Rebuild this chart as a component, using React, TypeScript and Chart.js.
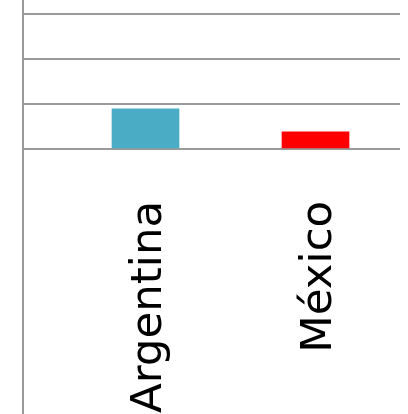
import React, { useEffect, useRef } from "react";
import { Chart, registerables } from "chart.js";

Chart.register(...registerables);

// Categories and their values
const categories: string[] = ["Argentina", "México"];
const values: number[] = [8.9, 3.8];
const barColors: string[] = ["#4bacc6", "#ff0000"];
// Horizontal gridline values on the value axis
const gridValues: number[] = [0, 10, 20, 30];

const GRID = "#9a9a9a";

export default function App() {
  const ref = useRef<HTMLCanvasElement | null>(null);

  useEffect(() => {
    if (!ref.current) return;
    const chart = new Chart(ref.current, {
      type: "bar",
      data: {
        datasets: [
          {
            data: values.map((v, i) => ({ x: i, y: v })),
            backgroundColor: barColors,
            borderWidth: 0,
            barThickness: 67,
          },
        ],
      },
      options: {
        animation: false,
        responsive: true,
        maintainAspectRatio: false,
        layout: { padding: { left: 0, right: 8, top: 0, bottom: 0 } },
        plugins: { legend: { display: false }, tooltip: { enabled: false } },
        scales: {
          x: {
            type: "linear",
            offset: false,
            min: -0.7206,
            max: 1.497,
            position: { y: 0 },
            grid: { display: false, drawTicks: false },
            border: { display: false },
            afterBuildTicks: (axis: any) => {
              axis.ticks = categories.map((_, i) => ({ value: i }));
            },
            afterFit: (axis: any) => {
              axis.paddingLeft = 0;
              axis.paddingRight = 0;
            },
            ticks: {
              autoSkip: false,
              minRotation: 90,
              maxRotation: 90,
              padding: 52,
              labelOffset: 4,
              color: "#000",
              font: { family: "DejaVu Sans", size: 43.5 },
              callback: (v: any) => categories[Math.round(Number(v))] ?? "",
            },
          },
          y: {
            type: "linear",
            min: -59.15,
            max: 33.2,
            afterBuildTicks: (axis: any) => {
              axis.ticks = gridValues.map((v) => ({ value: v }));
            },
            afterFit: (axis: any) => {
              axis.width = 23;
            },
            ticks: { display: false },
            grid: { color: GRID, lineWidth: 2, drawTicks: false },
            border: { display: true, color: GRID, width: 2 },
          },
        },
      },
    });
    return () => chart.destroy();
  }, []);

  return (
    <div style={{ position: "fixed", left: 0, top: 0, width: 408, height: 414 }}>
      <canvas ref={ref} />
    </div>
  );
}
